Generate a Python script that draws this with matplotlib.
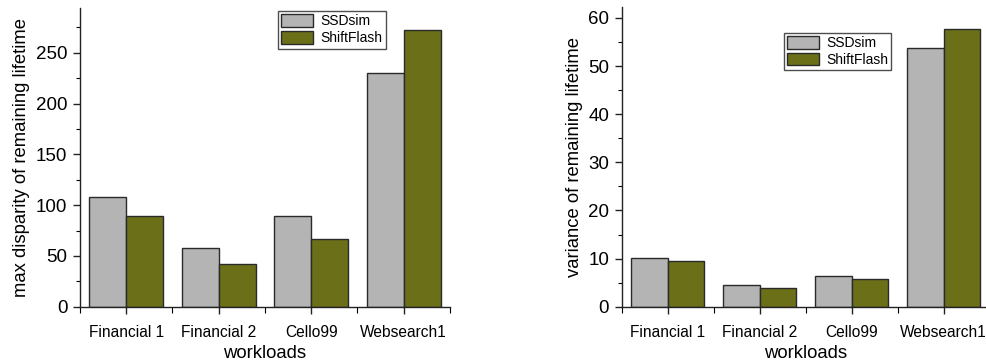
import numpy as np
import matplotlib
matplotlib.use("Agg")
import matplotlib.pyplot as plt
from matplotlib.ticker import MultipleLocator, FixedLocator

plt.rcParams['font.family'] = ['Liberation Sans', 'DejaVu Sans']

workloads = ["Financial 1", "Financial 2", "Cello99", "Websearch1"]
series_names = ["SSDsim", "ShiftFlash"]

max_disparity_ssdsim = [108, 57.5, 89, 230]
max_disparity_shiftflash = [89, 42, 67, 272]

variance_ssdsim = [10.2, 4.6, 6.4, 53.7]
variance_shiftflash = [9.4, 3.9, 5.8, 57.6]

gray = "#b4b4b4"
olive = "#6b6f18"
edge = "#2a2a2a"

fig = plt.figure(figsize=(9.86, 3.64), dpi=100)


def draw_panel(ax, a, b, ylabel, ymax, major, minor, legend_anchor):
    x = np.arange(len(workloads))
    w = 0.4
    ax.bar(x - w / 2, a, width=w, color=gray, edgecolor=edge, linewidth=1.0,
           label=series_names[0], zorder=2)
    ax.bar(x + w / 2, b, width=w, color=olive, edgecolor=edge, linewidth=1.0,
           label=series_names[1], zorder=2)
    ax.set_xlim(-0.5, len(workloads) - 0.5)
    ax.set_ylim(0, ymax)
    ax.spines['top'].set_visible(False)
    ax.spines['right'].set_visible(False)
    for s in ('left', 'bottom'):
        ax.spines[s].set_linewidth(1.0)
        ax.spines[s].set_color('#222222')
    ax.yaxis.set_major_locator(MultipleLocator(major))
    ax.yaxis.set_minor_locator(MultipleLocator(minor))
    ax.set_xticks(x)
    ax.set_xticklabels(workloads)
    ax.xaxis.set_minor_locator(FixedLocator(np.arange(-0.5, len(workloads), 1.0)))
    ax.tick_params(axis='both', which='major', direction='out', length=5,
                   width=1.0, color='#222222', pad=3)
    ax.tick_params(axis='y', which='major', labelsize=13.5, pad=4)
    ax.tick_params(axis='x', which='major', labelsize=11.2, pad=8)
    ax.tick_params(axis='y', which='minor', direction='out', length=3, width=0.8)
    ax.tick_params(axis='x', which='minor', direction='out', length=4, width=0.8)
    ax.set_xlabel("workloads", fontsize=13.3, labelpad=4)
    ax.set_ylabel(ylabel, fontsize=13.3, labelpad=4)
    leg = ax.legend(loc='upper left', bbox_to_anchor=legend_anchor,
                    fontsize=10, frameon=True, fancybox=False, edgecolor='#222222',
                    handlelength=2.3, handleheight=1.0, handletextpad=0.5,
                    borderpad=0.25, labelspacing=0.2, borderaxespad=0)
    leg.get_frame().set_linewidth(1.0)


ax1 = fig.add_axes([0.0811, 0.1574, 0.3753, 0.8206])
draw_panel(ax1, max_disparity_ssdsim, max_disparity_shiftflash,
           "max disparity of remaining lifetime", 294, 50, 25, (0.535, 0.99))

ax2 = fig.add_axes([0.6305, 0.1574, 0.3732, 0.8225])
draw_panel(ax2, variance_ssdsim, variance_shiftflash,
           "variance of remaining lifetime", 62.2, 10, 5, (0.44, 0.915))

fig.savefig("out.png", dpi=100)
